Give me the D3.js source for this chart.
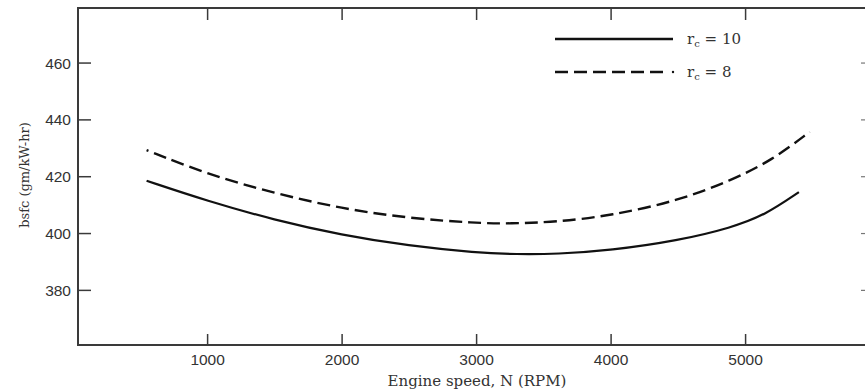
<!DOCTYPE html>
<html>
<head>
<meta charset="utf-8">
<script src="https://cdn.jsdelivr.net/npm/d3@7"></script>
<style>
  html, body { margin: 0; padding: 0; background: #fff; }
  svg { display: block; font-family: "DejaVu Serif", "Liberation Serif", serif; }
  .tick-label { fill: #333; font-size: 15.5px; }
  .axis-title { fill: #333; font-size: 15px; }
</style>
</head>
<body>
<div id="chart"></div>
<script>
// engine speed (RPM) and bsfc (gm/kW-hr)
const rpm10 = [550, 1000, 1500, 2000, 2500, 3000, 3300, 3600, 4000, 4500, 4900, 5150, 5400];
const bsfc10 = [418.4, 411.3, 404.6, 399.3, 395.5, 393.1, 392.5, 392.6, 393.9, 397.3, 401.9, 406.4, 414.4];

const rpm8 = [550, 1000, 1500, 2000, 2500, 3000, 3250, 3600, 4000, 4500, 4900, 5200, 5480];
const bsfc8 = [429.2, 420.7, 414.0, 408.6, 405.2, 403.5, 403.3, 403.9, 406.1, 411.3, 418.6, 425.6, 435.6];

const xTicks = [1000, 2000, 3000, 4000, 5000];
const yTicks = [380, 400, 420, 440, 460];
const legendLabels = [{ sub: 'c', rest: ' = 10', dash: null }, { sub: 'c', rest: ' = 8', dash: '13,6' }];

const width = 865, height = 392;
const m = { left: 78, right: 866, top: 8, bottom: 345 };

const svg = d3.select('#chart').append('svg')
  .attr('width', width).attr('height', height);

const x = d3.scaleLinear().domain([40, 5899]).range([m.left, m.right]);
const y = d3.scaleLinear().domain([360.6, 479.2]).range([m.bottom, m.top]);

const axisColor = '#3a3a3a';

// frame
svg.append('rect')
  .attr('x', m.left).attr('y', m.top)
  .attr('width', m.right - m.left).attr('height', m.bottom - m.top)
  .attr('fill', 'none').attr('stroke', axisColor).attr('stroke-width', 2);

// bottom axis, ticks pointing inward
const gx = svg.append('g').attr('transform', `translate(0,${m.bottom})`)
  .call(d3.axisTop(x).tickValues(xTicks).tickSize(11).tickFormat(''));
gx.select('.domain').remove();
gx.selectAll('line').attr('stroke', axisColor).attr('stroke-width', 1.5);
gx.selectAll('.tick').append('text')
  .attr('class', 'tick-label')
  .attr('y', 20).attr('text-anchor', 'middle')
  .text(d => d);

// top ticks
const gt = svg.append('g').attr('transform', `translate(0,${m.top})`)
  .call(d3.axisBottom(x).tickValues(xTicks).tickSize(12).tickFormat(''));
gt.select('.domain').remove();
gt.selectAll('line').attr('stroke', axisColor).attr('stroke-width', 1.5);

// left axis, ticks inward
const gy = svg.append('g').attr('transform', `translate(${m.left},0)`)
  .call(d3.axisRight(y).tickValues(yTicks).tickSize(13).tickFormat(''));
gy.select('.domain').remove();
gy.selectAll('line').attr('stroke', axisColor).attr('stroke-width', 1.5);
gy.selectAll('.tick').append('text')
  .attr('class', 'tick-label')
  .attr('x', -7).attr('dy', '0.36em').attr('text-anchor', 'end')
  .text(d => d);

// right ticks
const gr = svg.append('g').attr('transform', `translate(${m.right},0)`)
  .call(d3.axisLeft(y).tickValues(yTicks).tickSize(5).tickFormat(''));
gr.select('.domain').remove();
gr.selectAll('line').attr('stroke', '#777').attr('stroke-width', 1.2);

// titles
svg.append('text').attr('class', 'axis-title')
  .attr('x', 477).attr('y', 386).attr('text-anchor', 'middle')
  .text('Engine speed, N (RPM)');

svg.append('text').attr('class', 'axis-title')
  .attr('transform', 'translate(29,175) rotate(-90)')
  .attr('text-anchor', 'middle')
  .style('font-size', '13px')
  .text('bsfc (gm/kW-hr)');

// curves
const line = d3.line().x(d => x(d[0])).y(d => y(d[1])).curve(d3.curveBasis);

svg.append('path')
  .datum(d3.zip(rpm10, bsfc10))
  .attr('d', line)
  .attr('fill', 'none').attr('stroke', '#111').attr('stroke-width', 2.2);

// dashed curve starts with a short dot, like the original
svg.append('path')
  .datum(d3.zip(rpm8, bsfc8))
  .attr('d', line)
  .attr('fill', 'none').attr('stroke', '#111').attr('stroke-width', 2.4)
  .attr('stroke-dasharray', '13,6')
  .attr('stroke-dashoffset', 11);

// legend
const lg = svg.append('g');
legendLabels.forEach((d, i) => {
  const ly = 39 + i * 33;
  lg.append('line')
    .attr('x1', 555).attr('x2', d.dash ? 668 : 673).attr('y1', ly).attr('y2', ly)
    .attr('stroke', '#111').attr('stroke-width', 2.4)
    .attr('stroke-dasharray', d.dash);
  if (d.dash) {
    lg.append('circle').attr('cx', 673).attr('cy', ly).attr('r', 1.2).attr('fill', '#111');
  }
  const t = lg.append('text').attr('class', 'tick-label')
    .attr('x', 687).attr('y', ly + 5).style('font-size', '15px');
  t.append('tspan').text('r');
  t.append('tspan').attr('dy', 3).style('font-size', '10px').text(d.sub);
  t.append('tspan').attr('dy', -3).text(d.rest);
});
</script>
</body>
</html>
